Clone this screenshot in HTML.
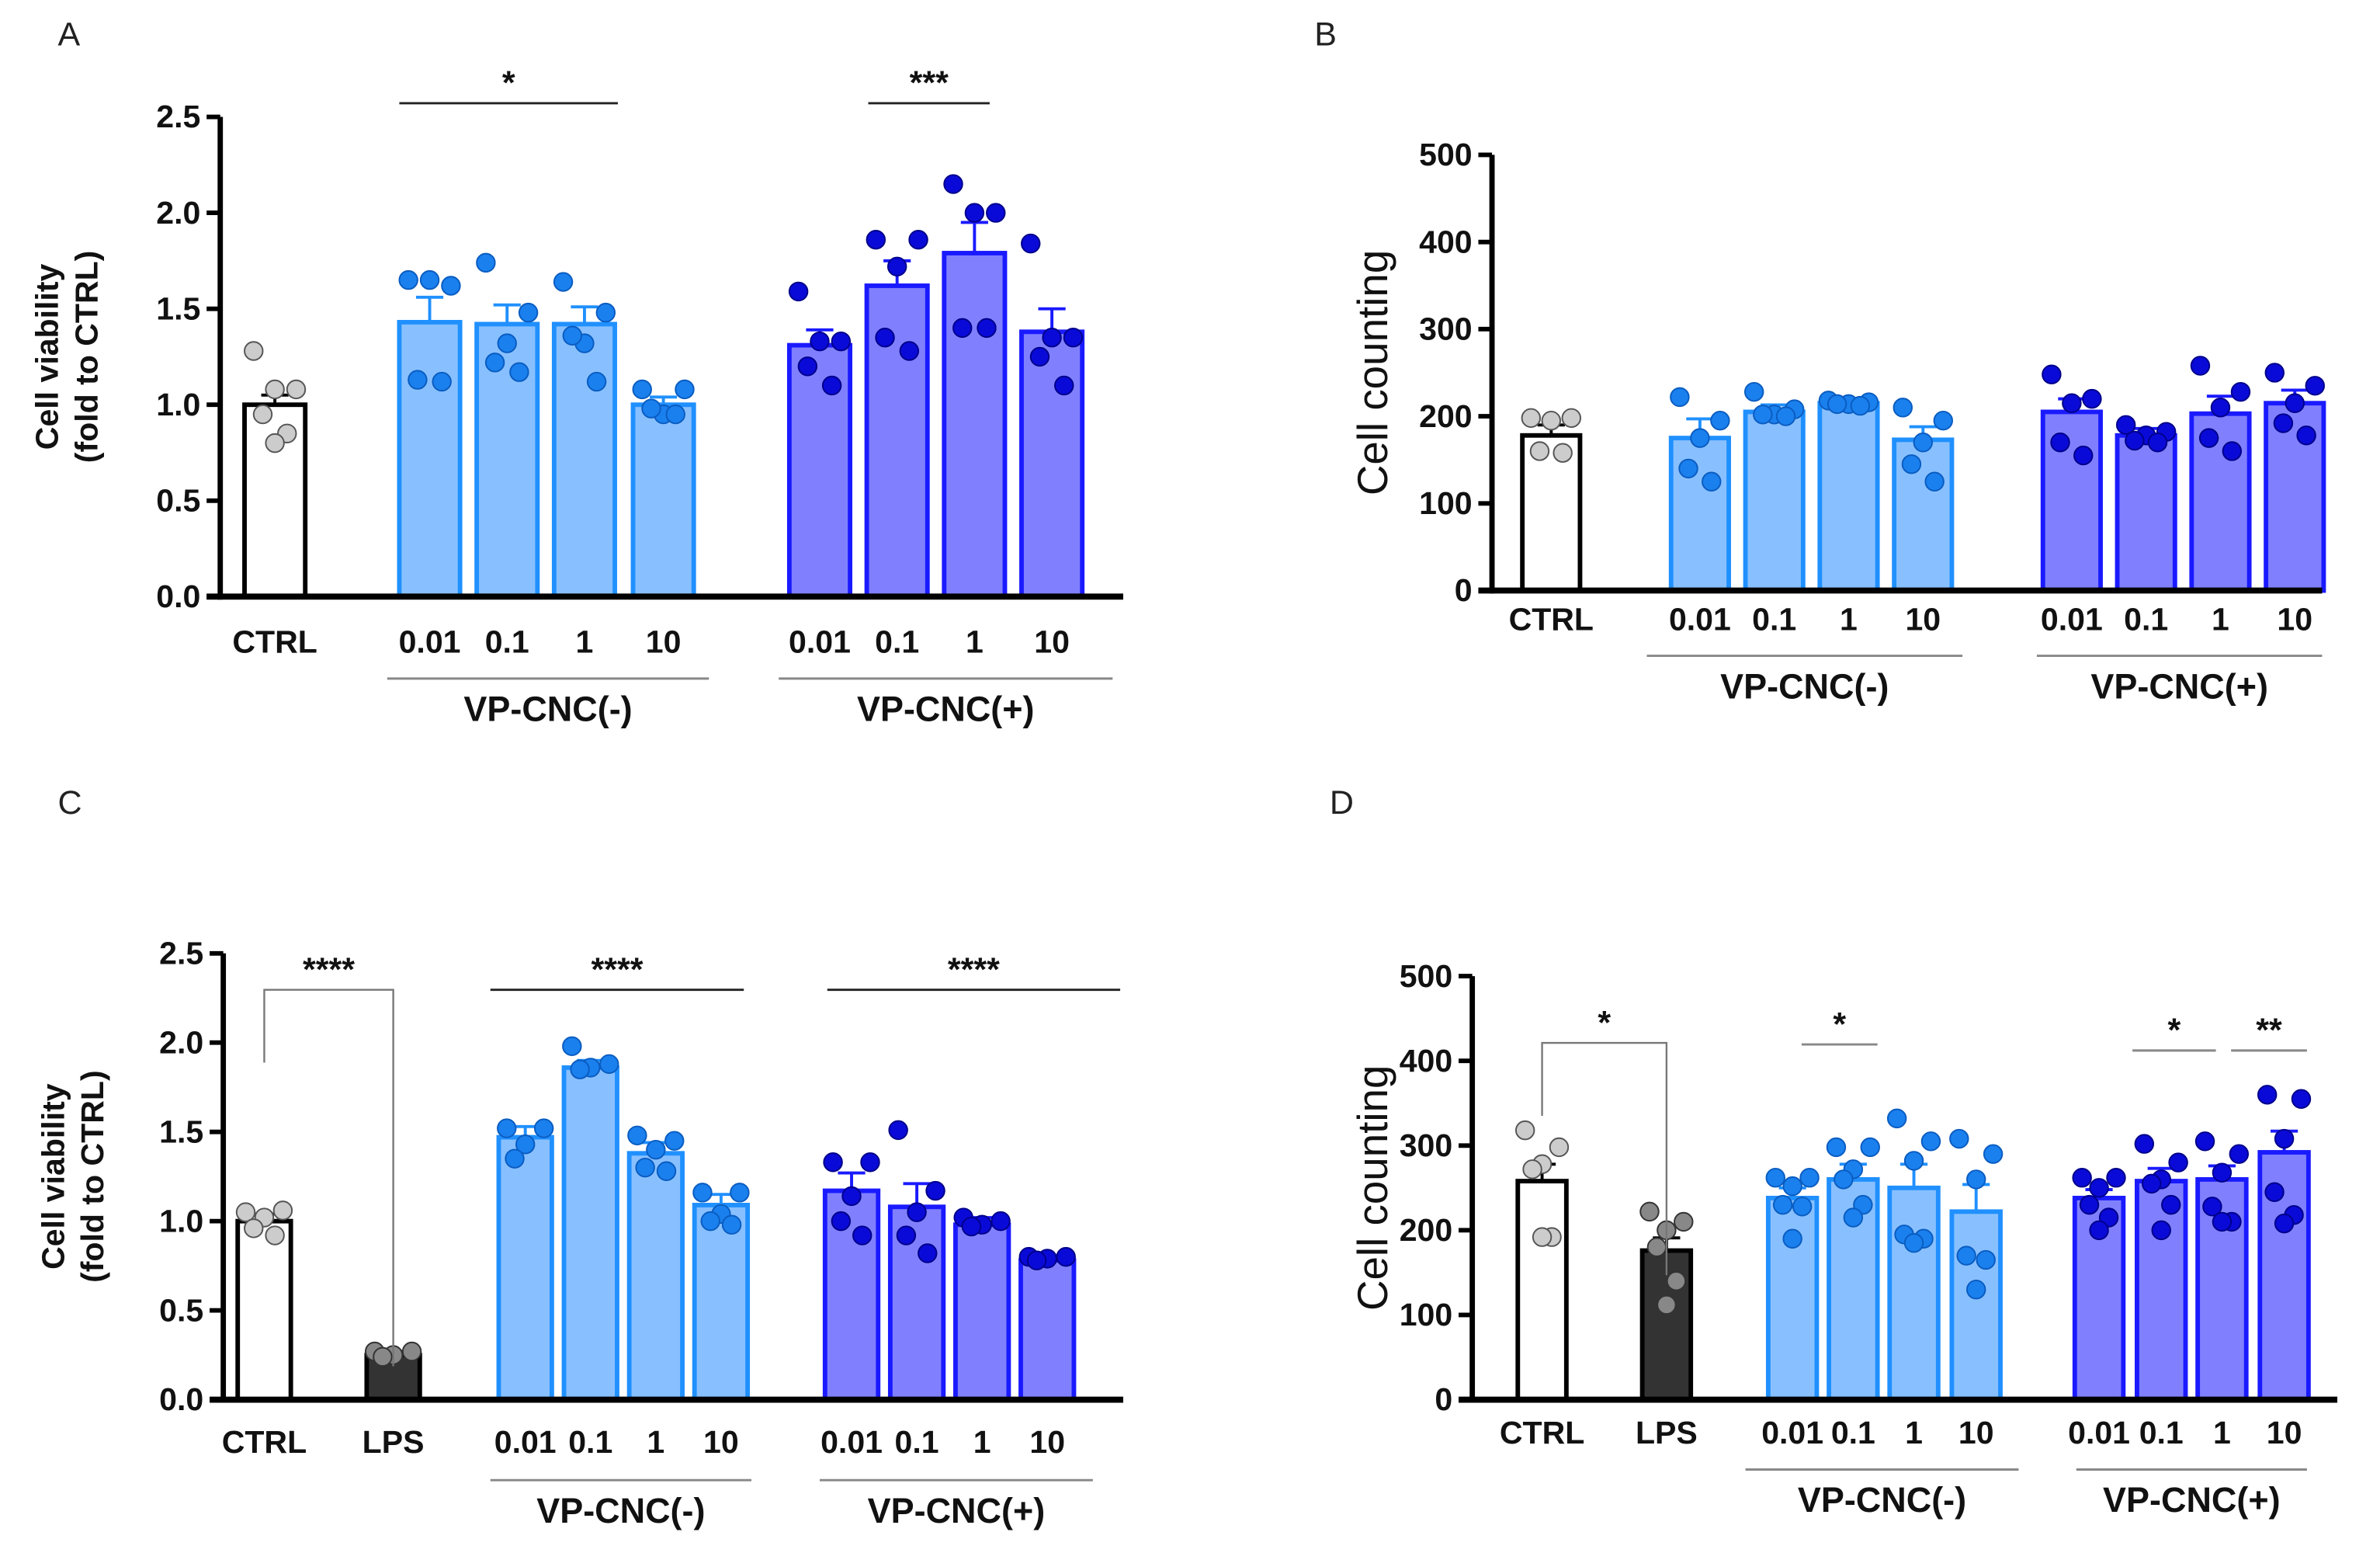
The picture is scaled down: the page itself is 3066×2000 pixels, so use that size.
<!DOCTYPE html>
<html><head><meta charset="utf-8"><style>
html,body{margin:0;padding:0;background:#fff;}
svg{display:block;}
.tk{font-family:"Liberation Sans Narrow","Liberation Sans",sans-serif;font-weight:bold;font-size:21px;fill:#111;}
.gl{font-family:"Liberation Sans Narrow","Liberation Sans",sans-serif;font-weight:bold;font-size:23px;fill:#111;}
.pl{font-family:"Liberation Sans",sans-serif;font-size:22px;fill:#222;}
</style></head><body>
<svg id="fig" width="3066" height="2000" viewBox="0 0 1568 1023" xmlns="http://www.w3.org/2000/svg">
<text class="pl" x="38" y="30">A</text>
<text class="pl" x="866" y="30">B</text>
<text class="pl" x="38" y="536">C</text>
<text class="pl" x="876" y="536">D</text>
</svg>
<script>
// Panel A data
const aCats=["CTRL","0.01","0.1","1","10","0.01","0.1","1","10"];
const aMeans=[1.0,1.43,1.42,1.42,1.0,1.31,1.62,1.79,1.38];
const aErr=[0.05,0.13,0.10,0.09,0.04,0.08,0.13,0.16,0.12];
const aDots=[[1.28,1.08,1.08,0.95,0.85,0.8],[1.65,1.62,1.65,1.13,1.12],[1.74,1.48,1.32,1.22,1.17],[1.64,1.48,1.32,1.36,1.12],[1.08,1.08,0.95,0.98,0.95],[1.59,1.33,1.33,1.2,1.1],[1.86,1.86,1.72,1.35,1.28],[2.15,2.0,2.0,1.4,1.4],[1.84,1.35,1.35,1.25,1.1]];
const aTicks=["0.0","0.5","1.0","1.5","2.0","2.5"];
// Panel B data
const bCats=["CTRL","0.01","0.1","1","10","0.01","0.1","1","10"];
const bMeans=[178,175,205,215,173,205,178,203,215];
const bErr=[12,22,8,4,15,15,8,20,15];
const bDots=[[198,198,195,160,158],[222,195,175,140,125],[228,208,202,202,200],[218,216,214,214,212],[210,195,170,145,125],[248,220,215,170,155],[190,182,178,172,170],[258,228,210,175,160],[250,235,215,192,178]];
const bTicks=["0","100","200","300","400","500"];
// Panel C data
const cCats=["CTRL","LPS","0.01","0.1","1","10","0.01","0.1","1","10"];
const cMeans=[1.0,0.25,1.47,1.86,1.38,1.09,1.17,1.08,0.98,0.78];
const cErr=[0.04,0.02,0.06,0.04,0.06,0.06,0.1,0.13,0.04,0.02];
const cDots=[[1.05,1.06,1.02,0.96,0.92],[0.27,0.27,0.25,0.24],[1.52,1.52,1.43,1.35],[1.98,1.88,1.86,1.85],[1.48,1.45,1.4,1.3,1.28],[1.16,1.16,1.04,1.0,0.98],[1.33,1.33,1.14,1.0,0.92],[1.51,1.17,1.05,0.92,0.82],[1.02,1.0,0.98,0.97],[0.8,0.8,0.79,0.78]];
const cTicks=["0.0","0.5","1.0","1.5","2.0","2.5"];
// Panel D data
const dCats=["CTRL","LPS","0.01","0.1","1","10","0.01","0.1","1","10"];
const dMeans=[258,176,238,260,250,222,238,258,260,292];
const dErr=[20,15,12,18,28,32,10,15,16,25];
const dDots=[[318,298,278,272,192,192],[222,210,200,180,140,112],[262,262,252,230,228,190],[298,298,272,260,230,215],[332,305,282,195,190,185],[308,290,260,170,165,130],[262,262,250,230,215,200],[302,280,260,255,230,200],[305,290,268,228,210,210],[360,355,308,245,218,208]];
const dTicks=["0","100","200","300","400","500"];

const NS="http://www.w3.org/2000/svg";
const svg=document.getElementById('fig');
function mk(tag,attrs,parent){const e=document.createElementNS(NS,tag);for(const k in attrs)e.setAttribute(k,attrs[k]);(parent||svg).appendChild(e);return e;}
const STY={
 w:{fill:"#fff",stroke:"#000",dot:"#ccc",dotS:"#555"},
 k:{fill:"#333",stroke:"#000",dot:"#888",dotS:"#333"},
 l:{fill:"#88c0ff",stroke:"#2090ff",dot:"#1a80ee",dotS:"#0a5cc0"},
 d:{fill:"#8080ff",stroke:"#1a1aff",dot:"#0a0ad8",dotS:"#00008a"}
};
const JIT=[-14,14,0,-8,8,0];
function panel(p){
 const g=mk('g',{});
 
 
 const ys=v=>p.y0-(v/p.max)*(p.y0-p.y1);
 const ya=mk('line',{x1:p.ax,y1:p.y1,x2:p.ax,y2:p.y0+2,stroke:"#000","stroke-width":3.5},g);
 
 p.ticks.forEach((t,i)=>{const v=p.max*i/(p.ticks.length-1);const y=ys(v);
  mk('line',{x1:p.ax-9,y1:y,x2:p.ax,y2:y,stroke:"#000","stroke-width":3},g);
  const tx=mk('text',{x:p.ax-13,y:y+7,"text-anchor":"end",class:"tk"},g);tx.textContent=t;
  });
 const yt=mk('text',{transform:`translate(${p.ytx},${(p.y0+p.y1)/2}) rotate(-90)`,"text-anchor":"middle","font-family":"Liberation Sans, sans-serif","font-size":p.ytBold?21:28,"font-weight":p.ytBold?"bold":"normal",fill:"#111"},g);
 
 p.ytitle.forEach((s,i)=>{const ts=mk('tspan',{x:0,dy:i?26:(p.ytitle.length>1?-4:0)},yt);ts.textContent=s;});
 p.cats.forEach((c,i)=>{const s=STY[p.sty[i]];const cx=p.xs[i];const bw=p.bw;const y=ys(p.means[i]);
  const r=mk('rect',{x:cx-bw/2,y:y,width:bw,height:p.y0-y,fill:s.fill,stroke:s.stroke,"stroke-width":3},g);
  
  const ye=ys(p.means[i]+p.err[i]);
  mk('line',{x1:cx,y1:y,x2:cx,y2:ye,stroke:s.stroke,"stroke-width":2},g);
  mk('line',{x1:cx-9,y1:ye,x2:cx+9,y2:ye,stroke:s.stroke,"stroke-width":2},g);
  const ds=p.dots[i];
  ds.forEach((v,j)=>{const off=JIT[j%JIT.length]*(p.bw/40);
   const d=mk('circle',{cx:cx+off,cy:ys(v),r:6,fill:s.dot,stroke:s.dotS,"stroke-width":1},g);
   });
  const tl=mk('text',{x:cx,y:p.tly,"text-anchor":"middle",class:"tk"},g);tl.textContent=c;
  
 });
 const xa=mk('line',{x1:p.ax-9,y1:p.y0,x2:p.xend,y2:p.y0,stroke:"#000","stroke-width":4},g);
 
 p.groups.forEach(gr=>{mk('line',{x1:gr[0],y1:p.gly,x2:gr[1],y2:p.gly,stroke:"#888","stroke-width":1.5},g);
  const t=mk('text',{x:(gr[0]+gr[1])/2,y:p.gly+28,"text-anchor":"middle",class:"gl"},g);t.textContent=gr[2];
  });
 (p.sig||[]).forEach(sg=>{
  if(sg.br){mk('polyline',{points:`${sg.x1},${sg.b1} ${sg.x1},${sg.y} ${sg.x2},${sg.y} ${sg.x2},${sg.b2}`,fill:"none",stroke:"#777","stroke-width":1.2},g);}
  else mk('line',{x1:sg.x1,y1:sg.y,x2:sg.x2,y2:sg.y,stroke:sg.c||"#222","stroke-width":1.5},g);
  const t=mk('text',{x:(sg.x1+sg.x2)/2,y:sg.y-6,"text-anchor":"middle","font-family":"Liberation Sans, sans-serif","font-weight":"bold","font-size":22,fill:"#111"},g);t.textContent=sg.t;
  });
}
panel({name:'panel-a',ax:145,y0:393,y1:77,max:2.5,ticks:aTicks,cats:aCats,means:aMeans,err:aErr,dots:aDots,
 sty:['w','l','l','l','l','d','d','d','d'],xs:[181,283,334,385,437,540,591,642,693],bw:40,xend:740,tly:430,gly:447,
 groups:[[255,467,'VP-CNC(-)'],[513,733,'VP-CNC(+)']],ytitle:['Cell viability','(fold to CTRL)'],ytBold:true,ytx:42,
 sig:[{x1:263,x2:407,y:68,t:'*'},{x1:572,x2:652,y:68,t:'***'}]});
panel({name:'panel-b',ax:983,y0:389,y1:102,max:500,ticks:bTicks,cats:bCats,means:bMeans,err:bErr,dots:bDots,
 sty:['w','l','l','l','l','d','d','d','d'],xs:[1022,1120,1169,1218,1267,1365,1414,1463,1512],bw:38,xend:1530,tly:415,gly:432,
 groups:[[1085,1293,'VP-CNC(-)'],[1342,1530,'VP-CNC(+)']],ytitle:['Cell counting'],ytBold:false,ytx:914});
panel({name:'panel-c',ax:147,y0:922,y1:628,max:2.5,ticks:cTicks,cats:cCats,means:cMeans,err:cErr,dots:cDots,
 sty:['w','k','l','l','l','l','d','d','d','d'],xs:[174,259,346,389,432,475,561,604,647,690],bw:35,xend:740,tly:957,gly:975,
 groups:[[323,495,'VP-CNC(-)'],[540,720,'VP-CNC(+)']],ytitle:['Cell viability','(fold to CTRL)'],ytBold:true,ytx:46,
 sig:[{br:true,x1:174,x2:259,y:652,b1:700,b2:900,t:'****'},{x1:323,x2:490,y:652,t:'****'},{x1:545,x2:738,y:652,t:'****'}]});
panel({name:'panel-d',ax:970,y0:922,y1:643,max:500,ticks:dTicks,cats:dCats,means:dMeans,err:dErr,dots:dDots,
 sty:['w','k','l','l','l','l','d','d','d','d'],xs:[1016,1098,1181,1221,1261,1302,1383,1424,1464,1505],bw:32,xend:1540,tly:951,gly:968,
 groups:[[1150,1330,'VP-CNC(-)'],[1368,1520,'VP-CNC(+)']],ytitle:['Cell counting'],ytBold:false,ytx:914,
 sig:[{br:true,x1:1016,x2:1098,y:687,b1:735,b2:840,t:'*'},{x1:1187,x2:1237,y:688,t:'*',c:'#888'},{x1:1405,x2:1460,y:692,t:'*',c:'#888'},{x1:1470,x2:1520,y:692,t:'**',c:'#888'}]});
</script>
</body></html>
